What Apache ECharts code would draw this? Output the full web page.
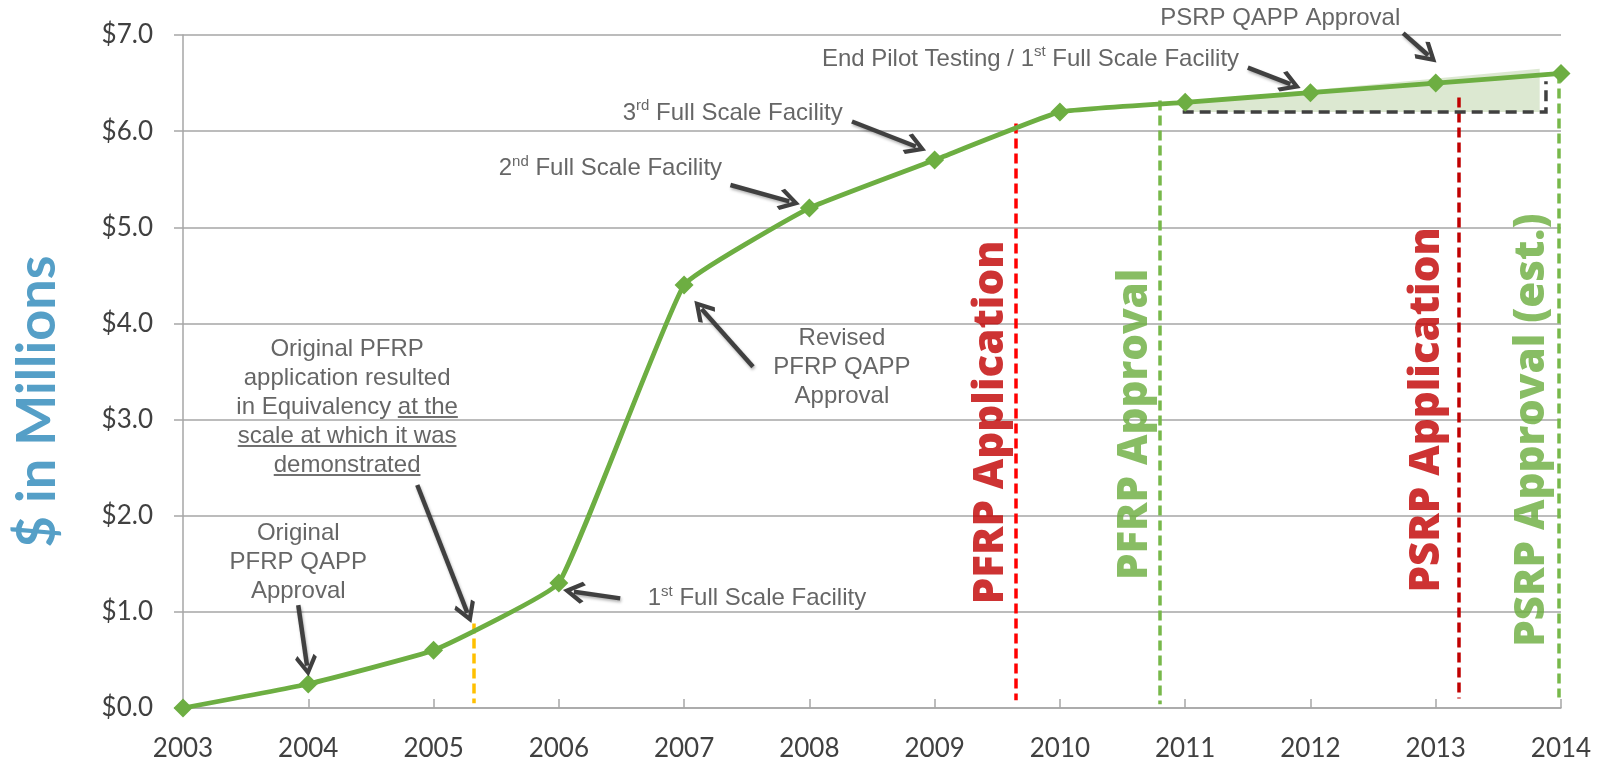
<!DOCTYPE html>
<html>
<head>
<meta charset="utf-8">
<title>PFRP / PSRP spend</title>
<script src="https://cdn.jsdelivr.net/npm/echarts@6/dist/echarts.min.js"></script>
<style>
  html, body { margin: 0; padding: 0; background: #fff; }
  #chart { width: 1600px; height: 765px; }
</style>
</head>
<body>
<div id="chart"></div>
<script>
// cumulative spend, $ millions
const years = [2003, 2004, 2005, 2006, 2007, 2008, 2009, 2010, 2011, 2012, 2013, 2014];
const spend = [0, 0.25, 0.6, 1.3, 4.4, 5.2, 5.7, 6.2, 6.3, 6.4, 6.5, 6.6];

// regulatory milestones (vertical dashed lines), x in fractional years
const milestoneNames = ['PFRP Application', 'PFRP Approval', 'PSRP Application', 'PSRP Approval (est.)'];
const milestoneX = [2009.65, 2010.80, 2013.18, 2013.98];
const milestoneTop = [6.08, 6.32, 6.35, 6.6];
const milestoneBottom = [0.08, 0.04, 0.1, 0.11];
const milestoneLabelX = [2009.45, 2010.60, 2012.93, 2013.77];
const milestoneLabelY = [2.97, 2.95, 3.10, 2.89];

// equivalency point on the 2005-2006 segment
const equivX = 2005.32;
const equivTop = 0.88;

// shaded gap between 2011 level and the curve
const gapX = [2010.98, 2010.98, 2013.83, 2013.83];
const gapY = [6.2, 6.3, 6.65, 6.2];
const bracketX = [2010.98, 2013.88, 2013.88];
const bracketY = [6.2, 6.2, 6.52];

// callouts: text, anchor, arrow tail -> tip
const notes = [
  { text: 'Original\nPFRP QAPP\nApproval', at: [2003.92, 1.51], align: 'center', from: [2003.92, 1.07], to: [2003.99, 0.44] },
  { text: 'Original PFRP\napplication resulted\nin Equivalency at the\nscale at which it was\ndemonstrated', at: [2004.31, 3.13], align: 'center', from: [2004.87, 2.32], to: [2005.27, 0.99] },
  { text: '1{sup|st} Full Scale Facility', at: [2006.71, 1.14], align: 'left', from: [2006.49, 1.14], to: [2006.12, 1.21] },
  { text: 'Revised\nPFRP QAPP\nApproval', at: [2008.26, 3.54], align: 'center', from: [2007.55, 3.55], to: [2007.14, 4.15] },
  { text: '2{sup|nd} Full Scale Facility', at: [2005.52, 5.61], align: 'left', from: [2007.37, 5.44], to: [2007.84, 5.27] },
  { text: '3{sup|rd} Full Scale Facility', at: [2006.51, 6.19], align: 'left', from: [2008.34, 6.10], to: [2008.85, 5.84] },
  { text: 'End Pilot Testing / 1{sup|st} Full Scale Facility', at: [2008.10, 6.75], align: 'left', from: [2011.50, 6.66], to: [2011.84, 6.49] },
  { text: 'PSRP QAPP Approval', at: [2010.80, 7.17], align: 'left', from: [2012.74, 7.02], to: [2012.94, 6.79] }
];

// underlined parts of the equivalency note
const equivLines = [
  { pre: 'Original PFRP', under: '' },
  { pre: 'application resulted', under: '' },
  { pre: 'in Equivalency ', under: 'at the' },
  { pre: '', under: 'scale at which it was' },
  { pre: '', under: 'demonstrated' }
];

const GREEN = '#6DAE42';
const DARK = '#404040';
const noteFont = '"Liberation Sans", Arial, sans-serif';
const axisFont = 'Lato, "Open Sans", sans-serif';
const milestoneColors = ['#FF0000', '#77B84A', '#C00000', '#77B84A'];
const milestoneTextColors = ['#C00000', '#6AAD3D', '#C00000', '#6AAD3D'];
const chevron = 'path://M50,0 L100,58 L87,69 L50,26 L13,69 L0,58 Z';
const LINE_H = 29;

const chart = echarts.init(document.getElementById('chart'));

const option = {
  animation: false,
  backgroundColor: '#fff',
  grid: { left: 183, right: 39, top: 35, bottom: 57 },
  xAxis: {
    type: 'value',
    min: 2003,
    max: 2014,
    interval: 1,
    axisLine: { lineStyle: { color: '#a6a6a6', width: 1.5 } },
    axisTick: { inside: true, length: 9, lineStyle: { color: '#a6a6a6', width: 1.5 } },
    axisLabel: { color: DARK, fontFamily: axisFont, fontSize: 26, margin: 28, formatter: v => String(v) },
    splitLine: { show: false }
  },
  yAxis: {
    type: 'value',
    min: 0,
    max: 7,
    interval: 1,
    name: '$ in Millions',
    nameLocation: 'middle',
    nameRotate: 90,
    nameGap: 118,
    nameTextStyle: {
      color: '#559FC7', fontFamily: axisFont, fontWeight: 'bold', fontSize: 54,
      padding: [0, 60, 0, 0]
    },
    axisLine: { show: true, lineStyle: { color: '#a6a6a6', width: 1.5 } },
    axisTick: { show: true, length: 9, lineStyle: { color: '#a6a6a6', width: 1.5 } },
    axisLabel: { color: DARK, fontFamily: axisFont, fontSize: 26, margin: 30, formatter: v => '$' + v.toFixed(1) },
    splitLine: { lineStyle: { color: '#a6a6a6', width: 1.5 } }
  },
  series: [
    {
      // shaded gap
      type: 'custom',
      z: 1,
      silent: true,
      clip: false,
      data: [[gapX[0], gapY[0]]],
      renderItem: (params, api) => ({
        type: 'polygon',
        shape: { points: gapX.map((x, i) => api.coord([x, gapY[i]])) },
        style: { fill: '#C9DBB8', opacity: 0.65 }
      })
    },
    {
      // milestone lines
      type: 'lines',
      coordinateSystem: 'cartesian2d',
      z: 2,
      silent: true,
      clip: false,
      data: milestoneX.map((x, i) => ({
        coords: [[x, milestoneTop[i]], [x, milestoneBottom[i]]],
        lineStyle: { color: milestoneColors[i] }
      })).concat([{
        coords: [[equivX, equivTop], [equivX, 0.05]],
        lineStyle: { color: '#FFC000' }
      }]),
      lineStyle: { width: 3.5, type: [10, 5], opacity: 1 }
    },
    {
      // bracket
      type: 'lines',
      coordinateSystem: 'cartesian2d',
      polyline: true,
      z: 2,
      silent: true,
      clip: false,
      data: [{ coords: bracketX.map((x, i) => [x, bracketY[i]]) }],
      lineStyle: { color: DARK, width: 3.5, type: [11, 6], opacity: 1 }
    },
    {
      type: 'line',
      z: 3,
      data: years.map((y, i) => [y, spend[i]]),
      smooth: 0.1,
      symbol: 'diamond',
      symbolSize: 19,
      showAllSymbol: true,
      lineStyle: { color: GREEN, width: 4.8 },
      itemStyle: { color: GREEN }
    },
    {
      // callout arrows
      type: 'lines',
      coordinateSystem: 'cartesian2d',
      z: 4,
      silent: true,
      clip: false,
      symbol: ['none', chevron],
      symbolSize: [32, 22],
      data: notes.map(n => ({ coords: [n.from, n.to] })),
      lineStyle: {
        color: DARK, width: 4.5, opacity: 1,
        shadowColor: 'rgba(0,0,0,0.3)', shadowBlur: 3, shadowOffsetX: 1, shadowOffsetY: 2
      },
      itemStyle: { color: DARK }
    },
    {
      // callout texts
      type: 'scatter',
      z: 5,
      silent: true,
      clip: false,
      symbolSize: 0,
      data: notes.map(n => ({
        value: n.at,
        label: {
          show: true,
          position: [0, 0],
          align: n.align,
          verticalAlign: 'middle',
          formatter: n.text,
          color: DARK,
          fontFamily: noteFont,
          fontSize: 24,
          lineHeight: LINE_H,
          rich: {
            sup: { fontSize: 15, lineHeight: 20, verticalAlign: 'top', color: DARK, fontFamily: noteFont }
          }
        }
      }))
    },
    {
      // milestone labels
      type: 'scatter',
      z: 5,
      silent: true,
      clip: false,
      symbolSize: 0,
      data: milestoneNames.map((name, i) => ({
        value: [milestoneLabelX[i], milestoneLabelY[i]],
        label: {
          show: true,
          position: [0, 0],
          align: 'center',
          verticalAlign: 'middle',
          rotate: 90,
          formatter: name,
          color: milestoneTextColors[i],
          fontFamily: '"Open Sans", sans-serif',
          fontWeight: 800,
          fontSize: 42
        }
      }))
    }
  ]
};

chart.setOption(option);

// underline parts of the equivalency note
function drawUnderlines() {
  const ctx = document.createElement('canvas').getContext('2d');
  ctx.font = '24px ' + noteFont;
  const [cx, cy] = chart.convertToPixel({ gridIndex: 0 }, notes[1].at);
  const mid = (equivLines.length - 1) / 2;
  const elems = [];
  equivLines.forEach((ln, i) => {
    if (!ln.under) return;
    const full = ctx.measureText(ln.pre + ln.under).width;
    const pre = ctx.measureText(ln.pre).width;
    const w = ctx.measureText(ln.under).width;
    const x0 = cx - full / 2 + pre;
    const y = cy + (i - mid) * LINE_H + 10;
    elems.push({
      type: 'line',
      silent: true,
      z: 10,
      shape: { x1: x0, y1: y, x2: x0 + w, y2: y },
      style: { stroke: DARK, lineWidth: 1.5 }
    });
  });
  chart.setOption({ graphic: elems });
}
drawUnderlines();
</script>
</body>
</html>
